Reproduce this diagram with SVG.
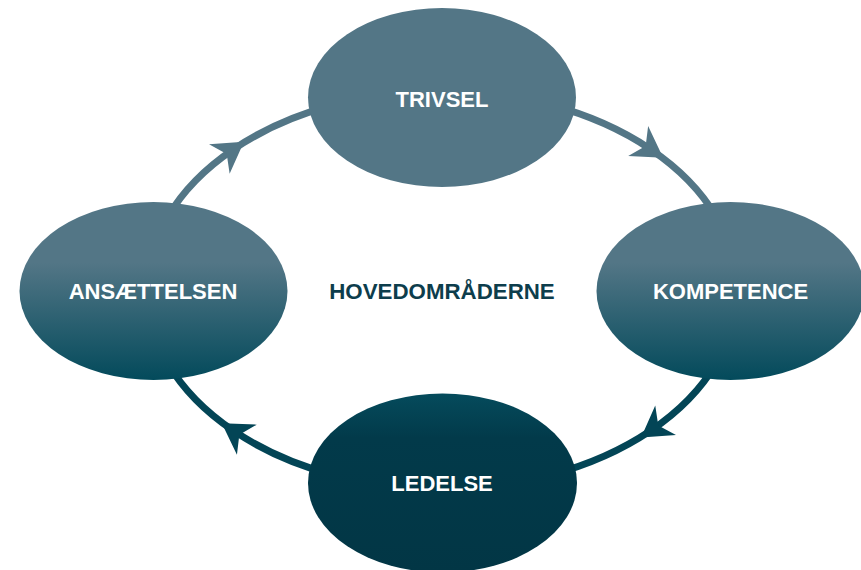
<svg xmlns="http://www.w3.org/2000/svg" xmlns:xlink="http://www.w3.org/1999/xlink" width="861" height="570" viewBox="0 0 861 570">
<style>
.lbl{font-family:"Liberation Sans",Arial,sans-serif;font-weight:bold;font-size:22px;fill:#ffffff;text-anchor:middle}
.ctr{font-family:"Liberation Sans",Arial,sans-serif;font-weight:bold;font-size:22.3px;fill:#0d3d4c;text-anchor:middle}
.ring{fill:none;stroke:url(#ringGrad);stroke-width:7}
</style>
<defs>
<linearGradient id="ringGrad" gradientUnits="userSpaceOnUse" x1="0" y1="91" x2="0" y2="489">
<stop offset="0" stop-color="#537686"/>
<stop offset="0.4" stop-color="#537686"/>
<stop offset="0.7" stop-color="#034556"/>
<stop offset="1" stop-color="#034556"/>
</linearGradient>
<linearGradient id="sideGrad" x1="0" y1="0" x2="0" y2="1">
<stop offset="0" stop-color="#537686"/>
<stop offset="0.34" stop-color="#537686"/>
<stop offset="1" stop-color="#034a5b"/>
</linearGradient>
<linearGradient id="botGrad" x1="0" y1="0" x2="0" y2="1">
<stop offset="0" stop-color="#054b5c"/>
<stop offset="0.25" stop-color="#023a4a"/>
<stop offset="1" stop-color="#023645"/>
</linearGradient>
<path id="ah" d="M17,0 L-13,-18 L-4,0 L-13,18 Z"/>
</defs>
<rect width="861" height="570" fill="#ffffff"/>
<g id="connectors">
<path class="ring" d="M147,290 A295,199 0 0 1 442,91"/>
<path class="ring" d="M442,91 A295,199 0 0 1 737,290"/>
<path class="ring" d="M737,290 A295,199 0 0 1 442,489"/>
<path class="ring" d="M442,489 A295,199 0 0 1 147,290"/>
<use xlink:href="#ah" fill="#537686" transform="translate(230,151.6) rotate(-34.9)"/>
<use xlink:href="#ah" fill="#537686" transform="translate(649,148.3) rotate(33.6)"/>
<use xlink:href="#ah" fill="#034556" transform="translate(655,427.7) rotate(144.8)"/>
<use xlink:href="#ah" fill="#034556" transform="translate(236,432.5) rotate(213.4)"/>
</g>
<g id="trivsel">
<ellipse cx="442" cy="97.5" rx="134" ry="89.5" fill="#537686"/>
<text class="lbl" x="442" y="107">TRIVSEL</text>
</g>
<g id="kompetence">
<ellipse cx="730.5" cy="291" rx="134" ry="89" fill="url(#sideGrad)"/>
<text class="lbl" x="730.5" y="299">KOMPETENCE</text>
</g>
<g id="ledelse">
<ellipse cx="442.5" cy="483" rx="134.5" ry="89.5" fill="url(#botGrad)"/>
<text class="lbl" x="442" y="491">LEDELSE</text>
</g>
<g id="ansaettelsen">
<ellipse cx="153.5" cy="291" rx="134" ry="89" fill="url(#sideGrad)"/>
<text class="lbl" x="153" y="299">ANSÆTTELSEN</text>
</g>
<g id="center">
<text class="ctr" x="442" y="299">HOVEDOMRÅDERNE</text>
</g>
</svg>
